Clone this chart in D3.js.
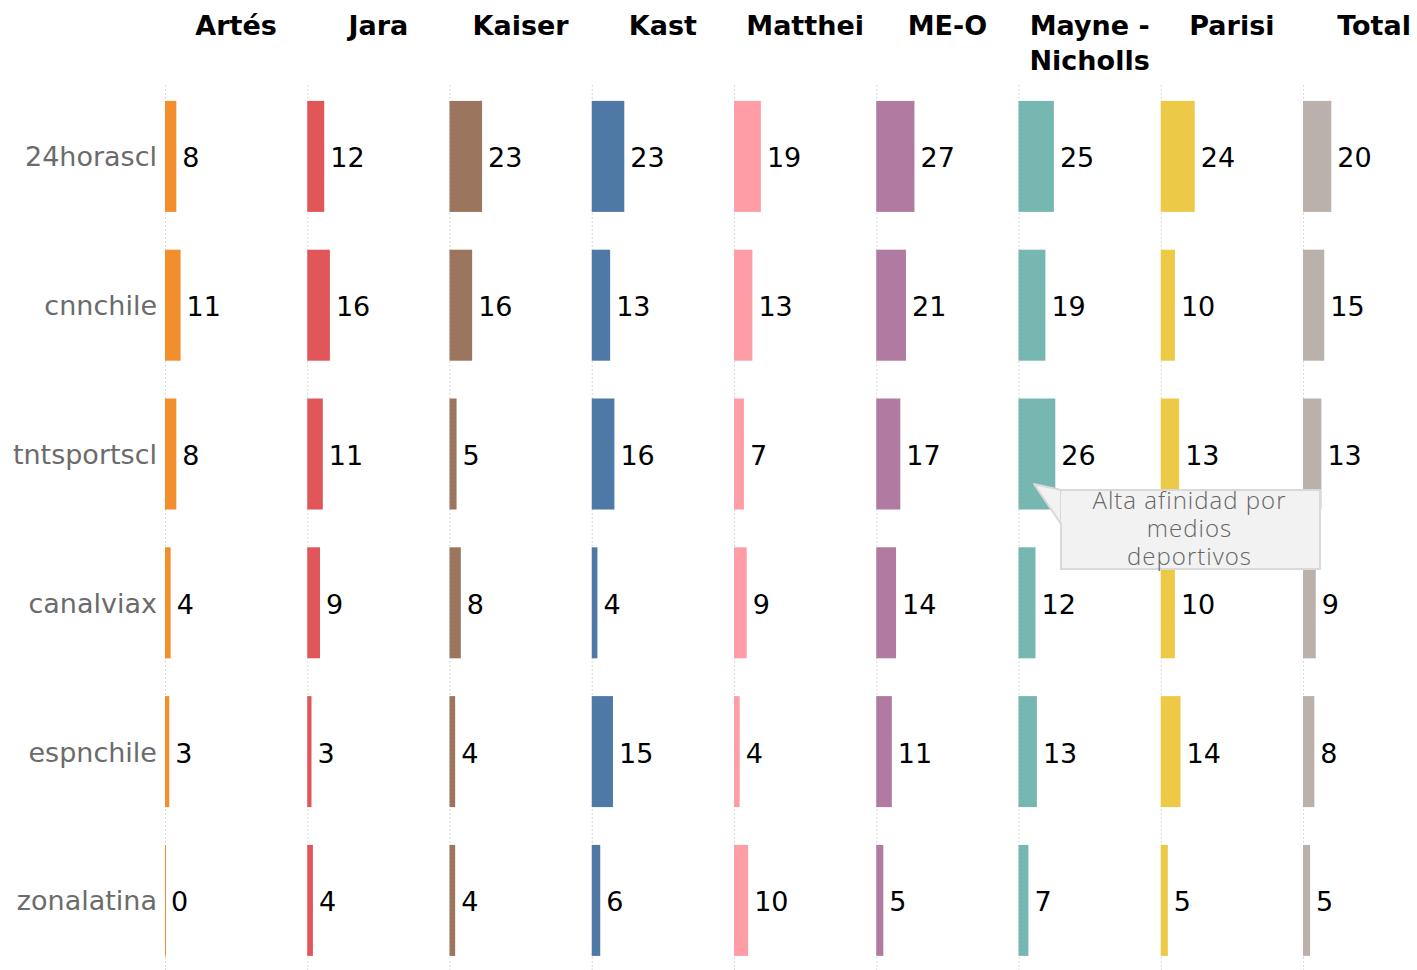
<!DOCTYPE html>
<html><head><meta charset="utf-8">
<script src="https://cdn.jsdelivr.net/npm/d3@7"></script>
<style>body{margin:0;background:#fff;}svg{display:block;}</style>
</head><body>
<svg id="chart" width="1417" height="970"></svg>
<script>
const candidates = ["Artés","Jara","Kaiser","Kast","Matthei","ME-O","Mayne - Nicholls","Parisi","Total"];
const media = ["24horascl","cnnchile","tntsportscl","canalviax","espnchile","zonalatina"];
const colors = ["#F28E2B","#E15759","#9C755F","#4E79A7","#FF9DA7","#B07AA1","#76B7B2","#EDC948","#BAB0AC"];
const vArtes   = [8, 11, 8, 4, 3, 0];
const vJara    = [12, 16, 11, 9, 3, 4];
const vKaiser  = [23, 16, 5, 8, 4, 4];
const vKast    = [23, 13, 16, 4, 15, 6];
const vMatthei = [19, 13, 7, 9, 4, 10];
const vMEO     = [27, 21, 17, 14, 11, 5];
const vMayne   = [25, 19, 26, 12, 13, 7];
const vParisi  = [24, 10, 13, 10, 14, 5];
const vTotal   = [20, 15, 13, 9, 8, 5];
const annotationLines = ["Alta afinidad por","medios","deportivos"];

const series = [vArtes,vJara,vKaiser,vKast,vMatthei,vMEO,vMayne,vParisi,vTotal];
const data = [];
candidates.forEach((c,i)=>media.forEach((m,j)=>data.push({c, m, v: series[i][j], color: colors[i]})));

const svg = d3.select("#chart");
const colX = d3.scaleBand().domain(candidates).range([165, 165 + 9*142.25]).paddingInner(0);
const rowY = d3.scaleBand().domain(media).range([82, 82 + 6*148.8]).paddingInner(0.254).paddingOuter(0.127);
const xv = d3.scaleLinear().domain([0,100]).range([0,141.5]);

// grid dotted lines
svg.append("g").selectAll("line").data(candidates).join("line")
  .attr("x1", d=>colX(d)+0.5).attr("x2", d=>colX(d)+0.5)
  .attr("y1", 85).attr("y2", 970)
  .attr("stroke", "#cfcfcf").attr("stroke-width", 1).attr("stroke-dasharray", "1.5,2.5");

// headers
const hdr = svg.append("g").selectAll("text").data(candidates).join("text")
  .attr("x", d=>colX(d)+colX.bandwidth()/2)
  .attr("y", 35)
  .attr("text-anchor","middle")
  .attr("font-family","'DejaVu Sans', sans-serif")
  .attr("font-weight","bold")
  .attr("font-size", 27)
  .attr("fill","#000");
hdr.each(function(d){
  const t = d3.select(this);
  const parts = d === "Mayne - Nicholls" ? ["Mayne -","Nicholls"] : [d];
  parts.forEach((p,k)=>t.append("tspan").attr("x", colX(d)+colX.bandwidth()/2).attr("dy", k===0?0:35).text(p));
});

// row labels
svg.append("g").selectAll("text").data(media).join("text")
  .attr("x", 157).attr("y", d=>rowY(d)+rowY.bandwidth()/2+10)
  .attr("text-anchor","end")
  .attr("font-family","'DejaVu Sans', sans-serif")
  .attr("font-size", 27)
  .attr("fill","#6b6b6b")
  .text(d=>d);

// bars
svg.append("g").selectAll("rect").data(data).join("rect")
  .attr("x", d=>colX(d.c))
  .attr("y", d=>rowY(d.m))
  .attr("width", d=>Math.max(1, xv(d.v)))
  .attr("height", rowY.bandwidth())
  .attr("fill", d=>d.color);

// value labels
svg.append("g").selectAll("text").data(data).join("text")
  .attr("x", d=>colX(d.c)+xv(d.v)+6)
  .attr("y", d=>rowY(d.m)+rowY.bandwidth()/2+11)
  .attr("font-family","'DejaVu Sans', sans-serif")
  .attr("font-size", 27)
  .attr("fill","#000")
  .text(d=>d.v);

// annotation
const ag = svg.append("g");
const bx = 1061, by = 490, bw = 259, bh = 79;
ag.append("path")
  .attr("d", `M${bx},${by} L1034,484 L${bx},${by+34} Z`)
  .attr("fill","#f2f2f2").attr("stroke","#d9d9d9").attr("stroke-width",2).attr("stroke-linejoin","round");
ag.append("rect").attr("x",bx).attr("y",by).attr("width",bw).attr("height",bh)
  .attr("fill","#f2f2f2").attr("stroke","#d9d9d9").attr("stroke-width",2);
ag.append("path")
  .attr("d", `M${bx+1.5},${by+1.5} L${bx+1.5},${by+32}`)
  .attr("stroke","#f2f2f2").attr("stroke-width",3);
ag.selectAll("text").data(annotationLines).join("text")
  .attr("x", bx+bw/2-1).attr("y", (d,i)=>509+i*28)
  .attr("text-anchor","middle")
  .attr("font-family","'Open Sans', sans-serif")
  .attr("font-weight",300)
  .attr("font-size", 24)
  .attr("letter-spacing", 1)
  .attr("fill","#666")
  .text(d=>d);
</script>
</body></html>
